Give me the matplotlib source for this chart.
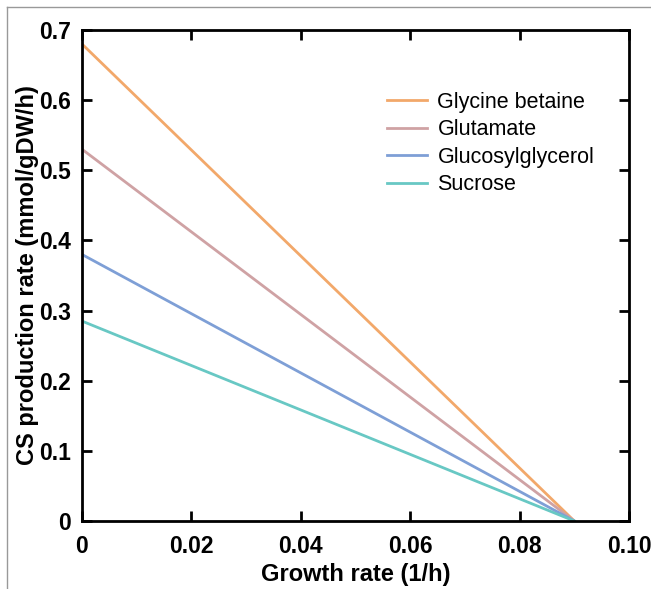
import numpy as np
import matplotlib.pyplot as plt
from matplotlib.lines import Line2D

plt.rcParams['font.family'] = ['Liberation Sans', 'DejaVu Sans']

labels = ['Glycine betaine', 'Glutamate', 'Glucosylglycerol', 'Sucrose']
colors = ['#F2A86A', '#CFA2A4', '#7E9FD6', '#68C8C4']
growth = [0.0, 0.09]
max_rate = [0.68, 0.53, 0.38, 0.285]
end_rate = [0.0, 0.0, 0.0, 0.0]

fig = plt.figure(figsize=(6.51, 5.89), dpi=100)
ax = fig.add_axes([82 / 651, 1 - 521 / 589, 547 / 651, 491 / 589])

for lab, c, y0, y1 in zip(labels, colors, max_rate, end_rate):
    ax.plot(growth, [y0, y1], color=c, lw=2, label=lab)

ax.set_xlim(0, 0.1)
ax.set_ylim(0, 0.7)
ax.set_xticks([0, 0.02, 0.04, 0.06, 0.08, 0.10])
ax.set_xticklabels(['0', '0.02', '0.04', '0.06', '0.08', '0.10'])
ax.set_yticks(np.arange(0, 0.71, 0.1))
ax.set_yticklabels(['0', '0.1', '0.2', '0.3', '0.4', '0.5', '0.6', '0.7'])
ax.tick_params(direction='in', length=7, width=2, top=True, right=True,
               labelsize=16.5)
ax.tick_params(axis='x', pad=10)
ax.tick_params(axis='y', pad=8)
for t in ax.get_xticklabels() + ax.get_yticklabels():
    t.set_fontweight('bold')
for s in ax.spines.values():
    s.set_linewidth(2)

ax.set_xlabel('Growth rate (1/h)', fontsize=17, fontweight='bold', labelpad=4)
ax.set_ylabel('CS production rate (mmol/gDW/h)', fontsize=17, fontweight='bold', labelpad=0)

ax.legend(loc='upper left', bbox_to_anchor=(0.558, 0.874), frameon=False,
          fontsize=15.5, handlelength=1.86, labelspacing=0.3, handletextpad=0.47,
          borderpad=0, borderaxespad=0)

# thin grey frame around the figure (top and left)
fig.add_artist(Line2D([7 / 651, 1], [1 - 7 / 589, 1 - 7 / 589], color='#999999', lw=1))
fig.add_artist(Line2D([7 / 651, 7 / 651], [0, 1 - 7 / 589], color='#999999', lw=1))

fig.savefig('out.png', dpi=100)
